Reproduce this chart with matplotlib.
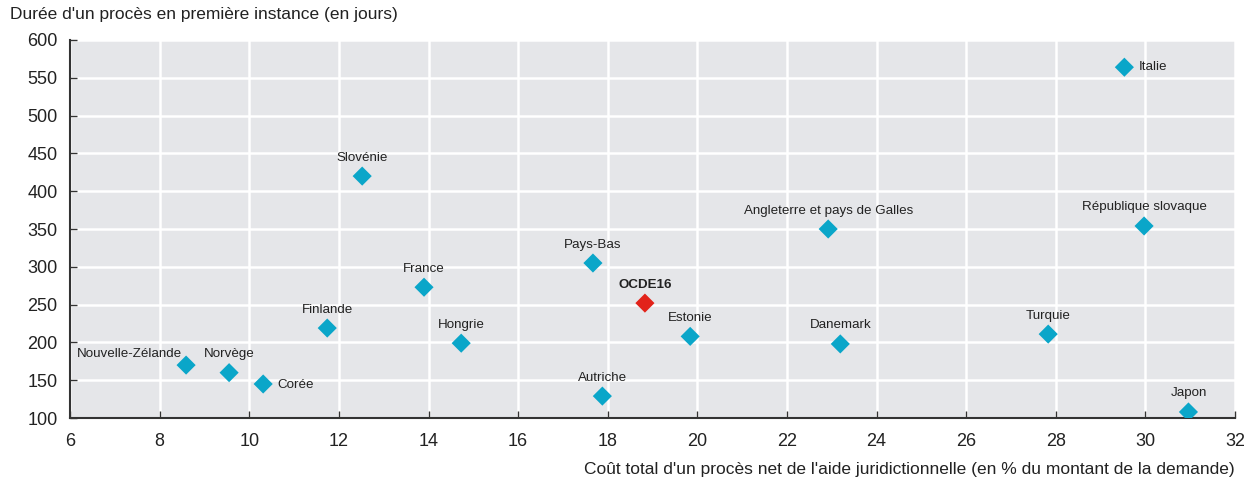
import matplotlib
matplotlib.use("Agg")
import matplotlib.pyplot as plt
from matplotlib import font_manager

names = {f.name for f in font_manager.fontManager.ttflist}
fam = "Liberation Sans Narrow" if "Liberation Sans Narrow" in names else "Liberation Sans"
plt.rcParams['font.family'] = [fam, 'DejaVu Sans']

countries = ["Nouvelle-Zélande", "Norvège", "Corée", "Finlande", "Slovénie", "France",
             "Hongrie", "Pays-Bas", "Autriche", "OCDE16", "Estonie",
             "Angleterre et pays de Galles", "Danemark", "Turquie", "Italie",
             "République slovaque", "Japon"]
cost = [8.59, 9.55, 10.31, 11.74, 12.52, 13.9, 14.73, 17.67, 17.88, 18.83, 19.84,
        22.92, 23.19, 27.83, 29.53, 29.97, 30.96]
duration = [170, 160, 145, 219, 420, 273, 199, 305, 129, 252, 208,
            350, 198, 211, 564, 354, 108]

xticks = [6, 8, 10, 12, 14, 16, 18, 20, 22, 24, 26, 28, 30, 32]
yticks = [100, 150, 200, 250, 300, 350, 400, 450, 500, 550, 600]

blue = "#0aa6c9"
red = "#e2231a"

fig = plt.figure(figsize=(12.44, 4.79), dpi=100)
ax = fig.add_axes([0.0563, 0.1273, 0.9365, 0.7892])
ax.set_facecolor("#e5e6e9")
ax.set_xlim(6, 32)
ax.set_ylim(100, 600)
ax.set_xticks(xticks)
ax.set_yticks(yticks)
ax.grid(True, color="white", linewidth=1.8)
ax.set_axisbelow(True)
for s in ["top", "right"]:
    ax.spines[s].set_visible(False)
for s in ["left", "bottom"]:
    ax.spines[s].set_color("#333333")
    ax.spines[s].set_linewidth(1.5)
ax.tick_params(axis="both", direction="in", length=5, width=1, color="#333333",
               labelsize=13, labelcolor="#222222")
ax.tick_params(axis="x", pad=11)
ax.tick_params(axis="y", pad=9)

colors = [red if c == "OCDE16" else blue for c in countries]
ax.scatter(cost, duration, marker="D", s=95, c=colors, zorder=3, linewidths=0)

offsets = {"Nouvelle-Zélande": (-3, 4, "right", "bottom"),
           "Corée": (10, -1, "left", "center"),
           "Italie": (10, 0, "left", "center"),
           }
for c, x, y in zip(countries, cost, duration):
    dx, dy, ha, va = offsets.get(c, (0, 9, "center", "bottom"))
    ax.annotate(c, (x, y), xytext=(dx, dy), textcoords="offset points",
                ha=ha, va=va, fontsize=9.6, color="#222222",
                fontweight="bold" if c == "OCDE16" else "normal", zorder=4)

fig.text(0.008, 0.985, "Durée d'un procès en première instance (en jours)",
         ha="left", va="top", fontsize=12.5, color="#222222")
fig.text(0.9928, 0.005, "Coût total d'un procès net de l'aide juridictionnelle (en % du montant de la demande)",
         ha="right", va="bottom", fontsize=12.5, color="#222222")

fig.savefig("out.png", dpi=100)
